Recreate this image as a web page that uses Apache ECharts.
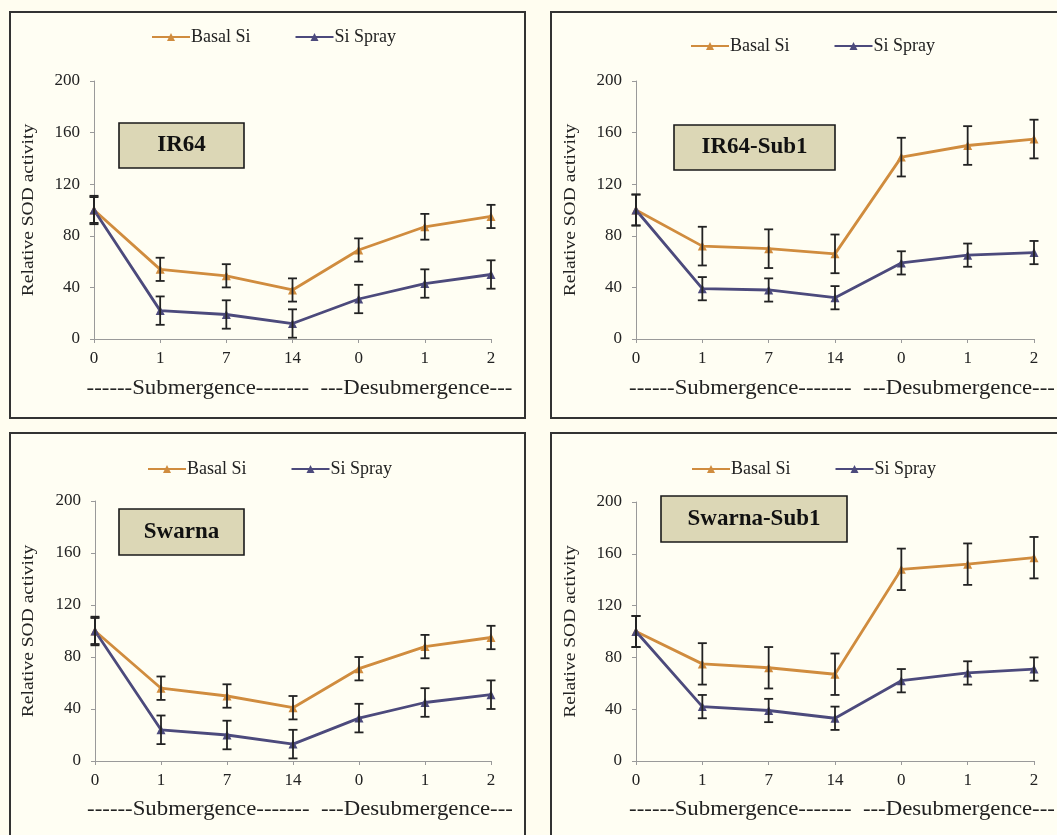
<!DOCTYPE html>
<html>
<head>
<meta charset="utf-8">
<script src="https://cdn.jsdelivr.net/npm/echarts@6/dist/echarts.min.js"></script>
<style>
  html, body { margin: 0; padding: 0; background: #fffdf0; }
  #chart { width: 1057px; height: 835px; }
</style>
</head>
<body>
<div id="chart"></div>
<script>
// Sampling days: 0, 1, 7, 14 days of submergence, then 0, 1, 2 days after desubmergence
const days = ['0', '1', '7', '14', '0', '1', '2'];
const yTicks = [0, 40, 80, 120, 160, 200];
const seriesNames = ['Basal Si', 'Si Spray'];
const cultivars = ['IR64', 'IR64-Sub1', 'Swarna', 'Swarna-Sub1'];
const yTitle = 'Relative SOD activity';
const phaseLabel = '------Submergence-------  ---Desubmergence---';

// Relative SOD activity (mean) and standard error, per cultivar
const ir64Basal = [100, 54, 49, 38, 69, 87, 95];
const ir64BasalErr = [10, 9, 9, 9, 9, 10, 9];
const ir64Spray = [100, 22, 19, 12, 31, 43, 50];
const ir64SprayErr = [11, 11, 11, 11, 11, 11, 11];

const ir64SubBasal = [100, 72, 70, 66, 141, 150, 155];
const ir64SubBasalErr = [12, 15, 15, 15, 15, 15, 15];
const ir64SubSpray = [100, 39, 38, 32, 59, 65, 67];
const ir64SubSprayErr = [12, 9, 9, 9, 9, 9, 9];

const swarnaBasal = [100, 56, 50, 41, 71, 88, 95];
const swarnaBasalErr = [10, 9, 9, 9, 9, 9, 9];
const swarnaSpray = [100, 24, 20, 13, 33, 45, 51];
const swarnaSprayErr = [11, 11, 11, 11, 11, 11, 11];

const swarnaSubBasal = [100, 75, 72, 67, 148, 152, 157];
const swarnaSubBasalErr = [12, 16, 16, 16, 16, 16, 16];
const swarnaSubSpray = [100, 42, 39, 33, 62, 68, 71];
const swarnaSubSprayErr = [12, 9, 9, 9, 9, 9, 9];

const basalByPanel = [ir64Basal, ir64SubBasal, swarnaBasal, swarnaSubBasal];
const basalErrByPanel = [ir64BasalErr, ir64SubBasalErr, swarnaBasalErr, swarnaSubBasalErr];
const sprayByPanel = [ir64Spray, ir64SubSpray, swarnaSpray, swarnaSubSpray];
const sprayErrByPanel = [ir64SprayErr, ir64SubSprayErr, swarnaSprayErr, swarnaSubSprayErr];

// ---- layout ----
const FONT = 'Liberation Serif';
const ORANGE = '#d08c3e';
const NAVY = '#4c4a7c';
const panels = [
  { frame: [10, 12, 515, 406], grid: [94, 81, 397, 258], legend: [146, 23], box: [119, 123, 125, 45], titleX: 29, phaseY: 389 },
  { frame: [551, 12, 530, 406], grid: [636, 81, 398, 258], legend: [685, 32], box: [674, 125, 161, 45], titleX: 571, phaseY: 389 },
  { frame: [10, 433, 515, 430], grid: [95, 501, 396, 260], legend: [142, 455], box: [119, 509, 125, 46], titleX: 29, phaseY: 810 },
  { frame: [551, 433, 530, 430], grid: [636, 502, 398, 259], legend: [686, 455], box: [661, 496, 186, 46], titleX: 571, phaseY: 810 }
];

const grids = [], xAxes = [], yAxes = [], legends = [], series = [], graphics = [];

// Error bar drawing: vertical whisker with caps
function errorBarItem(params, api) {
  const x = api.value(0);
  const lo = api.coord([x, api.value(1)]);
  const hi = api.coord([x, api.value(2)]);
  const cap = 4.5;
  const style = { stroke: '#222', lineWidth: 1.8 };
  return {
    type: 'group',
    children: [
      { type: 'line', shape: { x1: lo[0], y1: lo[1], x2: hi[0], y2: hi[1] }, style },
      { type: 'line', shape: { x1: lo[0] - cap, y1: lo[1], x2: lo[0] + cap, y2: lo[1] }, style },
      { type: 'line', shape: { x1: hi[0] - cap, y1: hi[1], x2: hi[0] + cap, y2: hi[1] }, style }
    ]
  };
}

panels.forEach((p, i) => {
  // panel frame
  graphics.push({
    type: 'rect', z: -10, silent: true,
    shape: { x: p.frame[0], y: p.frame[1], width: p.frame[2], height: p.frame[3] },
    style: { fill: '#fffef3', stroke: '#333', lineWidth: 2 }
  });

  grids.push({ left: p.grid[0], top: p.grid[1], width: p.grid[2], height: p.grid[3] });

  xAxes.push({
    type: 'category', gridIndex: i, data: days, boundaryGap: false,
    axisLine: { lineStyle: { color: '#9a9a9a', width: 1 } },
    axisTick: { show: true, length: 4, lineStyle: { color: '#9a9a9a' } },
    axisLabel: { color: '#222', fontFamily: FONT, fontSize: 17, margin: 11 },
    splitLine: { show: false }
  });

  yAxes.push({
    type: 'value', gridIndex: i, min: yTicks[0], max: yTicks[yTicks.length - 1], interval: 40,
    axisLine: { show: true, lineStyle: { color: '#9a9a9a', width: 1 } },
    axisTick: { show: true, length: 4, lineStyle: { color: '#9a9a9a' } },
    axisLabel: { color: '#222', fontFamily: FONT, fontSize: 17, margin: 14 },
    splitLine: { show: false }
  });

  legends.push({
    left: p.legend[0], top: p.legend[1], orient: 'horizontal',
    data: seriesNames, itemWidth: 38, itemHeight: 10, itemGap: 44,
    textStyle: { color: '#222', fontFamily: FONT, fontSize: 18, padding: [0, 0, 0, -4] },
    selectedMode: false
  });

  const lines = [
    { name: seriesNames[0], data: basalByPanel[i], err: basalErrByPanel[i], color: ORANGE },
    { name: seriesNames[1], data: sprayByPanel[i], err: sprayErrByPanel[i], color: NAVY }
  ];
  lines.forEach(l => {
    series.push({
      type: 'line', name: l.name, xAxisIndex: i, yAxisIndex: i, data: l.data,
      symbol: 'triangle', symbolSize: 9, z: 3,
      lineStyle: { color: l.color, width: 2.8 },
      itemStyle: { color: l.color },
      animation: false
    });
  });
  lines.forEach(l => {
    series.push({
      type: 'custom', name: l.name + ' error', xAxisIndex: i, yAxisIndex: i, z: 4,
      renderItem: errorBarItem,
      encode: { x: 0, y: [1, 2] },
      data: l.data.map((v, k) => [k, v - l.err[k], v + l.err[k]]),
      animation: false, silent: true
    });
  });

  // y-axis title, rotated along the axis
  graphics.push({
    type: 'text', z: 10,
    x: p.titleX, y: p.grid[1] + p.grid[3] / 2,
    rotation: Math.PI / 2, scaleX: 1.22,
    style: { text: yTitle, font: '16px "' + FONT + '"', fill: '#222',
             align: 'center', verticalAlign: 'middle' }
  });

  // cultivar label box
  graphics.push({
    type: 'group', z: 10,
    children: [
      { type: 'rect', shape: { x: p.box[0], y: p.box[1], width: p.box[2], height: p.box[3] },
        style: { fill: '#dcd7b6', stroke: '#1a1a1a', lineWidth: 1.6 } },
      { type: 'text', x: p.box[0] + p.box[2] / 2, y: p.box[1] + p.box[3] / 2,
        style: { text: cultivars[i], font: 'bold 23px "' + FONT + '"', fill: '#111',
                 align: 'center', verticalAlign: 'middle' } }
    ]
  });

  // phase label under the day ticks
  graphics.push({
    type: 'text', z: 10,
    x: p.grid[0] + p.grid[2] / 2 + 7, y: p.phaseY, scaleX: 1.14,
    style: { text: phaseLabel, font: '20px "' + FONT + '"', fill: '#222',
             align: 'center', verticalAlign: 'middle' }
  });
});

const chart = echarts.init(document.getElementById('chart'), null, { renderer: 'canvas' });
chart.setOption({
  backgroundColor: '#fffdf0',
  animation: false,
  grid: grids,
  xAxis: xAxes,
  yAxis: yAxes,
  legend: legends,
  series: series,
  graphic: graphics
});
</script>
</body>
</html>
